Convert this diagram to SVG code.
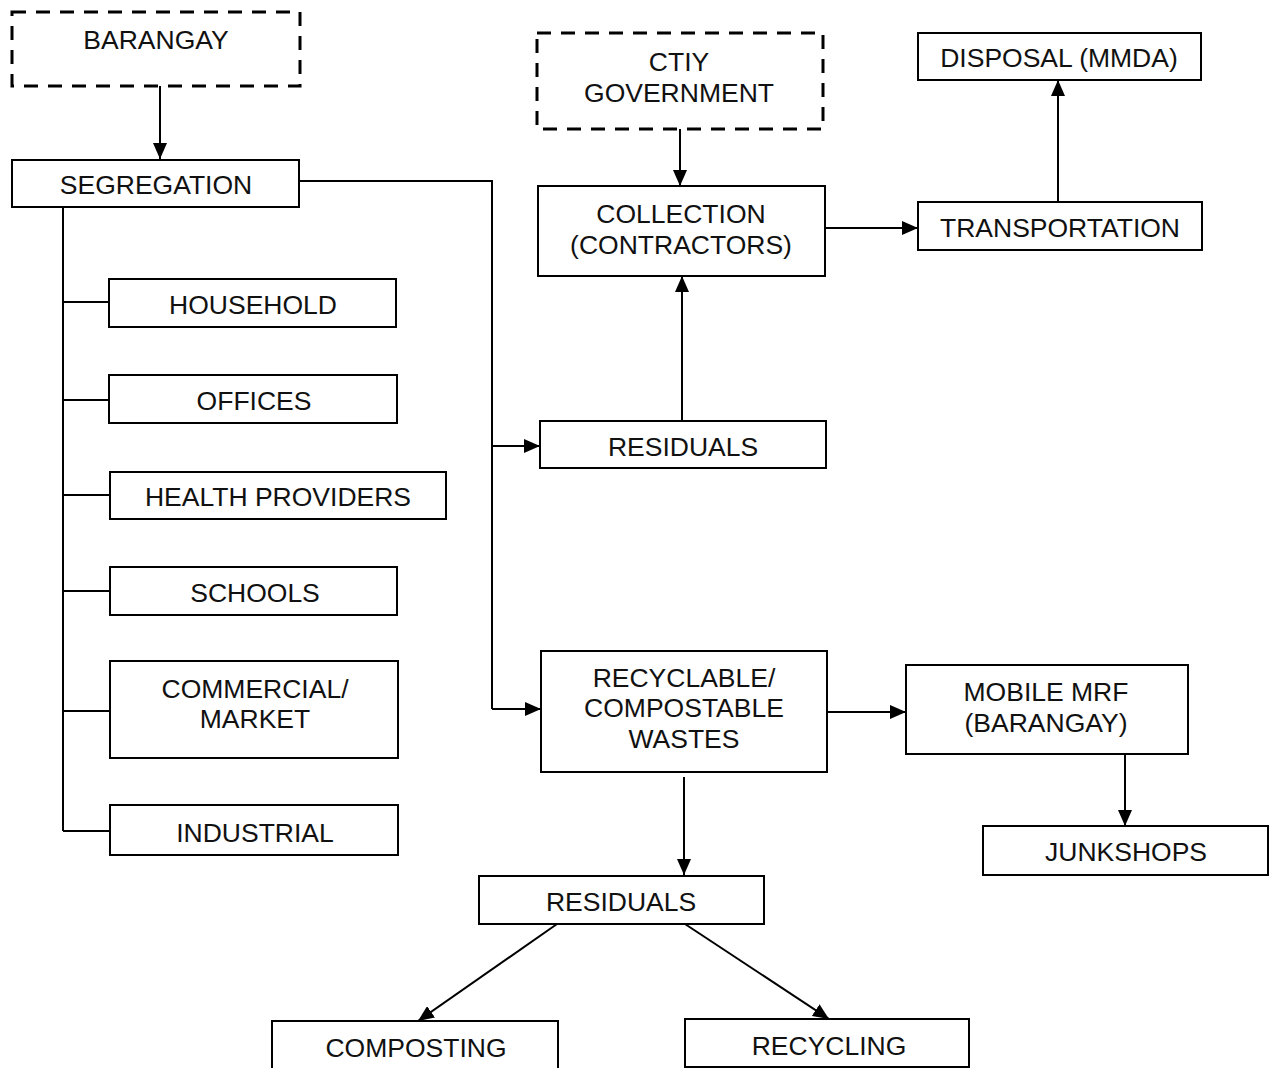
<svg xmlns="http://www.w3.org/2000/svg" width="1272" height="1068" viewBox="0 0 1272 1068">
<defs>
<marker id="ah" viewBox="0 0 16 14" refX="16" refY="7" markerWidth="16" markerHeight="14" markerUnits="userSpaceOnUse" orient="auto">
<path d="M0,0 L16,7 L0,14 Z" fill="#000"/>
</marker>
</defs>
<style>
.box{fill:#fff;stroke:#000;stroke-width:2}
.dash{fill:#fff;stroke:#000;stroke-width:3;stroke-dasharray:14 10}
.t{font-family:"Liberation Sans",Arial,sans-serif;font-size:26.5px;fill:#111;text-anchor:middle}
.c{fill:none;stroke:#000;stroke-width:2}
.a{fill:none;stroke:#000;stroke-width:2;marker-end:url(#ah)}
</style>
<rect width="1272" height="1068" fill="#fff"/>
<g id="connectors">
<path class="a" d="M160,86 V159"/>
<path class="c" d="M299,181 H492 V709"/>
<path class="a" d="M492,446 H540"/>
<path class="a" d="M492,709 H541"/>
<path class="c" d="M63,207 V831"/>
<path class="c" d="M63,302 H109 M63,400 H109 M63,495 H110 M63,591 H110 M63,711 H110 M63,831 H110"/>
<path class="a" d="M680,129 V186"/>
<path class="a" d="M682,421 V276"/>
<path class="a" d="M825,228 H918"/>
<path class="a" d="M1058,202 V80"/>
<path class="a" d="M827,712 H906"/>
<path class="a" d="M1125,754 V826"/>
<path class="a" d="M684,777 V875"/>
<path class="a" d="M557,924 L418,1021"/>
<path class="a" d="M685,924 L829,1019"/>
</g>
<g id="barangay"><rect class="dash" x="12" y="12" width="288" height="74"/><text class="t" x="156" y="49">BARANGAY</text></g>
<g id="segregation"><rect class="box" x="12" y="160" width="287" height="47"/><text class="t" x="156" y="194">SEGREGATION</text></g>
<g id="household"><rect class="box" x="109" y="279" width="287" height="48"/><text class="t" x="253" y="314">HOUSEHOLD</text></g>
<g id="offices"><rect class="box" x="109" y="375" width="288" height="48"/><text class="t" x="254" y="410">OFFICES</text></g>
<g id="health"><rect class="box" x="110" y="472" width="336" height="47"/><text class="t" x="278" y="506">HEALTH PROVIDERS</text></g>
<g id="schools"><rect class="box" x="110" y="567" width="287" height="48"/><text class="t" x="255" y="602">SCHOOLS</text></g>
<g id="commercial"><rect class="box" x="110" y="661" width="288" height="97"/><text class="t" x="255" y="698">COMMERCIAL/</text><text class="t" x="255" y="728">MARKET</text></g>
<g id="industrial"><rect class="box" x="110" y="805" width="288" height="50"/><text class="t" x="255" y="842">INDUSTRIAL</text></g>
<g id="citygov"><rect class="dash" x="537" y="33" width="286" height="96"/><text class="t" x="679" y="71">CTIY</text><text class="t" x="679" y="102">GOVERNMENT</text></g>
<g id="collection"><rect class="box" x="538" y="186" width="287" height="90"/><text class="t" x="681" y="223">COLLECTION</text><text class="t" x="681" y="254">(CONTRACTORS)</text></g>
<g id="residuals1"><rect class="box" x="540" y="421" width="286" height="47"/><text class="t" x="683" y="456">RESIDUALS</text></g>
<g id="transportation"><rect class="box" x="918" y="202" width="284" height="48"/><text class="t" x="1060" y="237">TRANSPORTATION</text></g>
<g id="disposal"><rect class="box" x="918" y="33" width="283" height="47"/><text class="t" x="1059" y="67">DISPOSAL (MMDA)</text></g>
<g id="recyclable"><rect class="box" x="541" y="651" width="286" height="121"/><text class="t" x="684" y="687">RECYCLABLE/</text><text class="t" x="684" y="717">COMPOSTABLE</text><text class="t" x="684" y="748">WASTES</text></g>
<g id="mrf"><rect class="box" x="906" y="665" width="282" height="89"/><text class="t" x="1046" y="701">MOBILE MRF</text><text class="t" x="1046" y="732">(BARANGAY)</text></g>
<g id="junkshops"><rect class="box" x="983" y="826" width="285" height="49"/><text class="t" x="1126" y="861">JUNKSHOPS</text></g>
<g id="residuals2"><rect class="box" x="479" y="876" width="285" height="48"/><text class="t" x="621" y="911">RESIDUALS</text></g>
<g id="composting"><rect class="box" x="272" y="1021" width="286" height="52"/><text class="t" x="416" y="1057">COMPOSTING</text></g>
<g id="recycling"><rect class="box" x="685" y="1019" width="284" height="48"/><text class="t" x="829" y="1055">RECYCLING</text></g>
</svg>
